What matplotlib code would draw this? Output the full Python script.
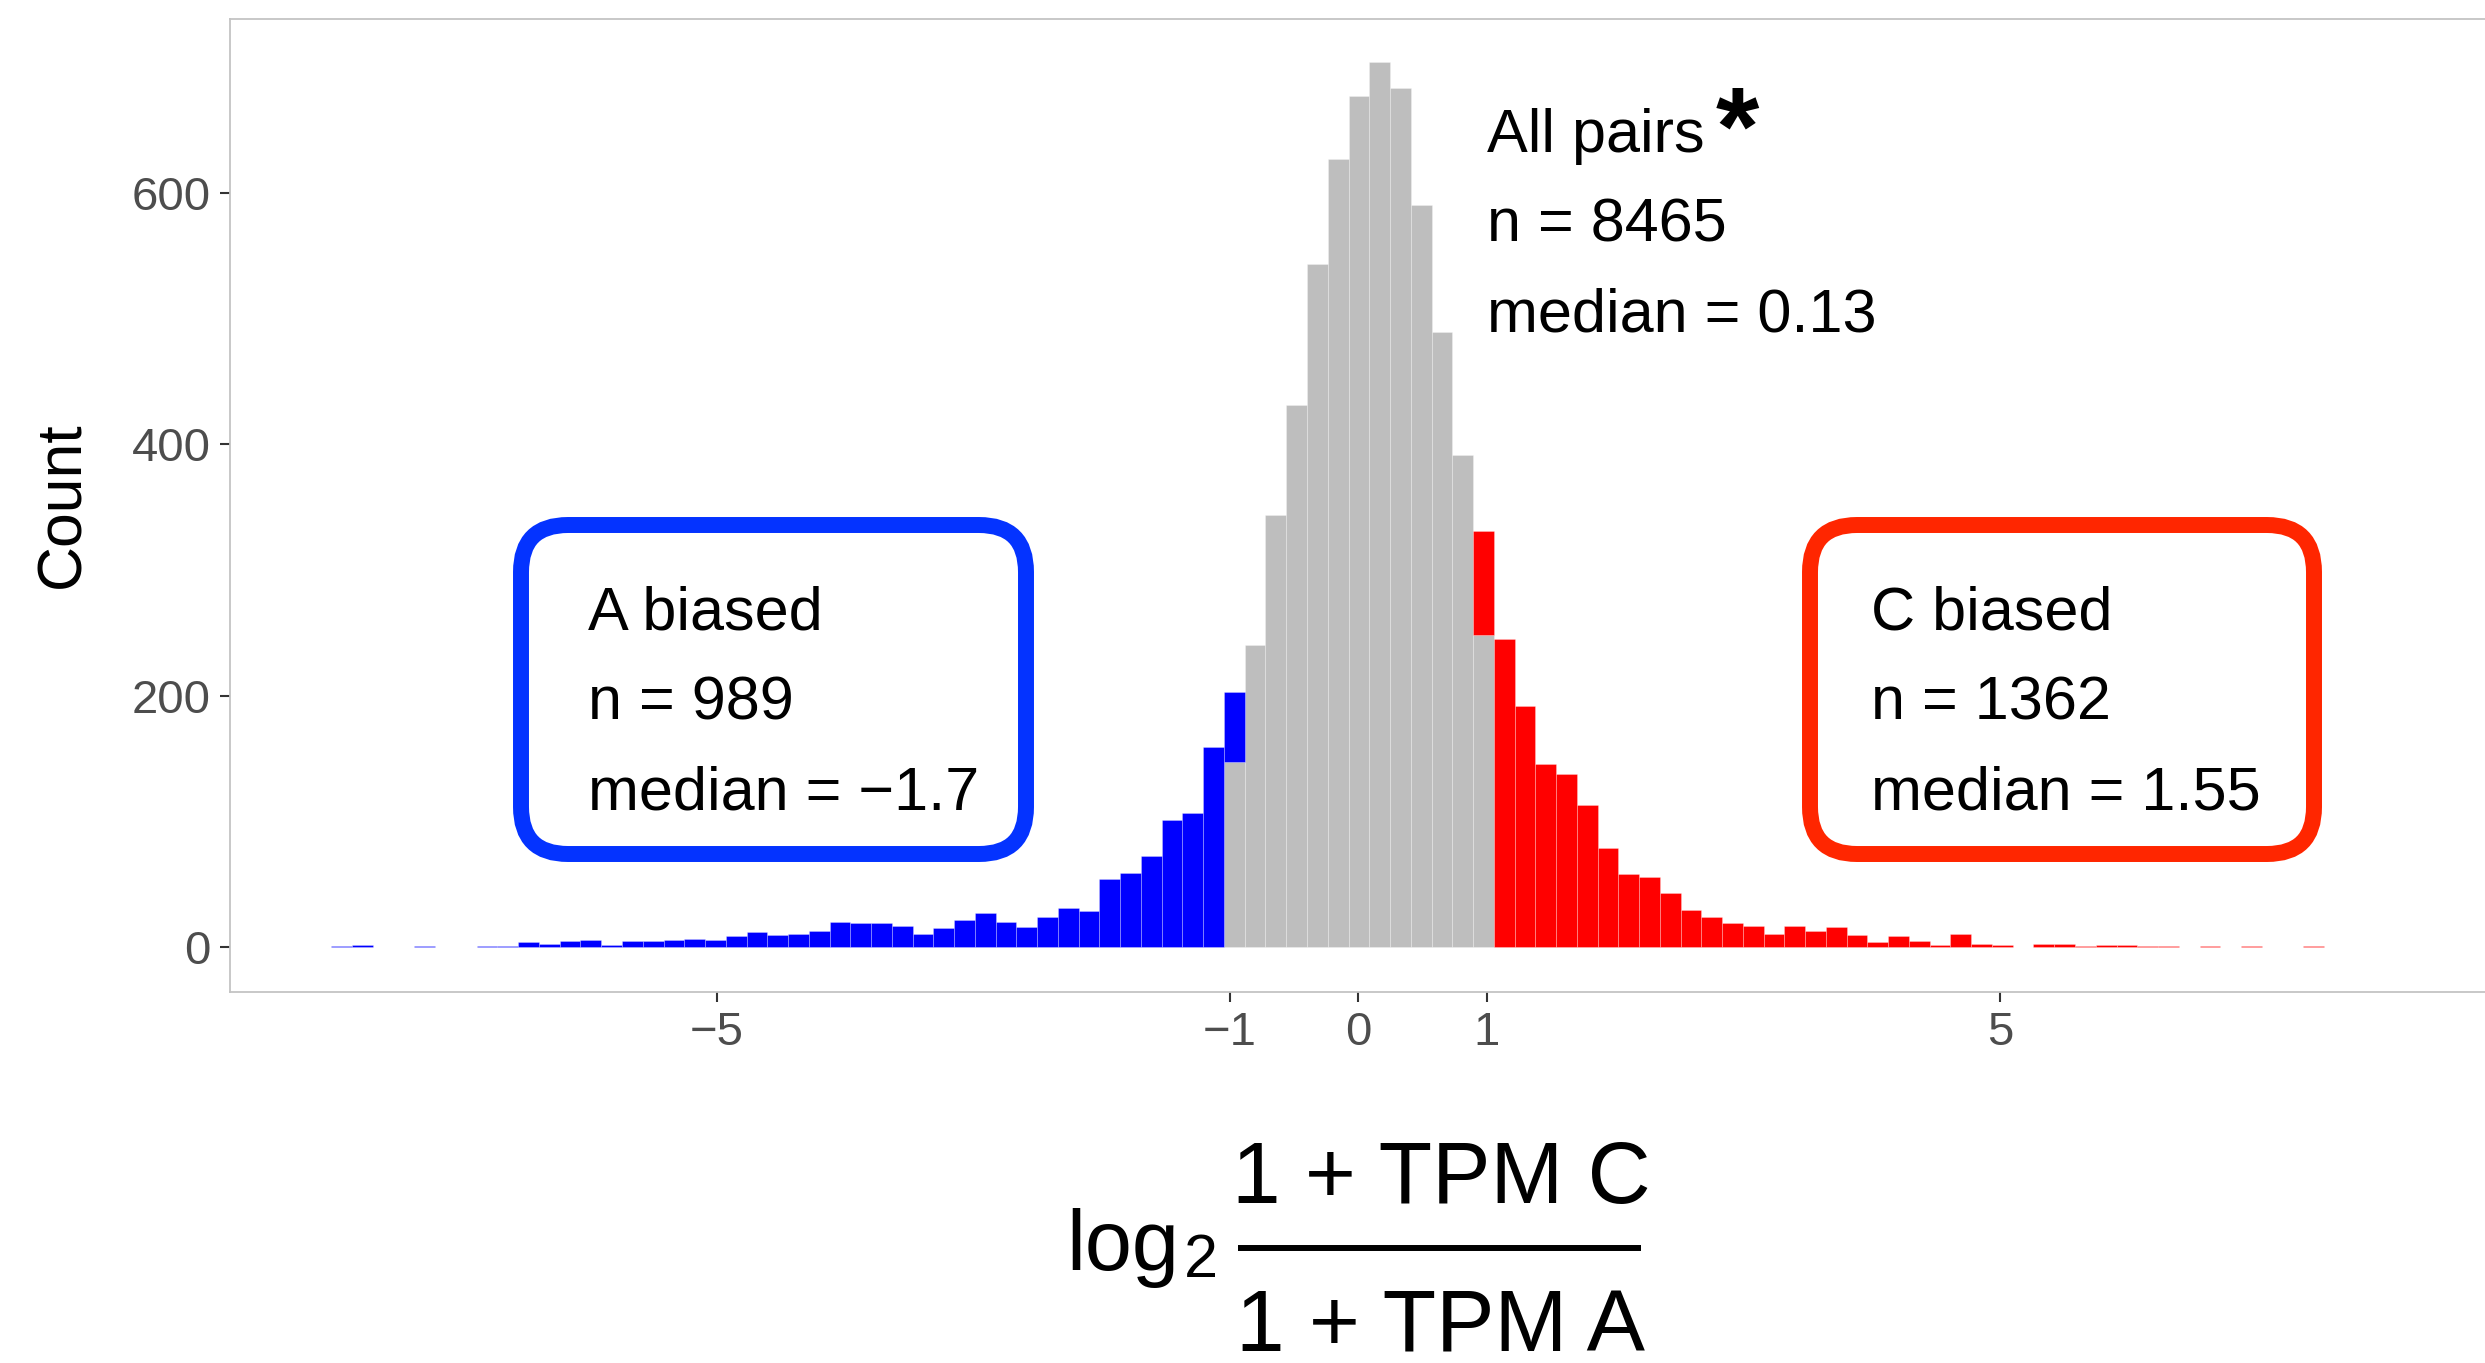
import numpy as np
import matplotlib
matplotlib.use("Agg")
import matplotlib.pyplot as plt
from matplotlib.patches import FancyBboxPatch
from matplotlib.lines import Line2D

plt.rcParams['font.family'] = ['Liberation Sans', 'DejaVu Sans']

# Histogram of log2((1 + TPM C) / (1 + TPM A)), fixed-width bins
BIN_START = -8.0
BIN_WIDTH = 0.1617

# A-biased pairs (ratio < -1): bins 0..43
a_biased_counts = [1, 2, 0, 0, 1, 0, 0, 1, 1, 4, 3, 5, 6, 2, 5, 5, 6, 7, 6, 9,
                   12, 10, 11, 13, 20, 19, 19, 17, 11, 15, 22, 27, 20, 16, 24,
                   31, 29, 54, 59, 73, 101, 107, 159, 56]
# Unbiased pairs (-1 <= ratio <= 1): bins 43..55
neutral_counts = [147, 240, 344, 431, 543, 627, 677, 704, 683, 590, 489, 391, 248]
NEUTRAL_FIRST_BIN = 43
# C-biased pairs (ratio > 1): bins 55..95
c_biased_counts = [83, 245, 192, 146, 138, 113, 79, 58, 56, 43, 30, 24, 19, 17,
                   11, 17, 13, 16, 10, 4, 9, 5, 2, 11, 3, 2, 0, 3, 3, 1, 2, 2,
                   1, 1, 0, 1, 0, 1, 0, 0, 1]
C_FIRST_BIN = 55

x_ticks = [-5, -1, 0, 1, 5]
x_tick_labels = ["\u22125", "\u22121", "0", "1", "5"]
y_ticks = [0, 200, 400, 600]

a_label = ["A biased", "n = 989", "median = \u22121.7"]
c_label = ["C biased", "n = 1362", "median = 1.55"]
all_label = ["All pairs", "n = 8465", "median = 0.13"]

COL_GRAY = "#BEBEBE"
COL_BLUE = "#0000FF"
COL_RED = "#FF0000"
BOX_BLUE = "#0433FF"
BOX_RED = "#FF2600"

W, H, DPI = 2485, 1363, 100
fig = plt.figure(figsize=(W / DPI, H / DPI), dpi=DPI)
fig.patch.set_facecolor("white")


def fx(x):
    return x / W


def fy(y):
    return 1 - y / H


ax = fig.add_axes([fx(230), fy(992), (2488 - 230) / W, (992 - 19) / H])

n_bins = C_FIRST_BIN + len(c_biased_counts)
left_edges = BIN_START + BIN_WIDTH * np.arange(n_bins)

gray = np.zeros(n_bins)
gray[NEUTRAL_FIRST_BIN:NEUTRAL_FIRST_BIN + len(neutral_counts)] = neutral_counts
blue = np.zeros(n_bins)
blue[:len(a_biased_counts)] = a_biased_counts
red = np.zeros(n_bins)
red[C_FIRST_BIN:] = c_biased_counts

edge = (1, 1, 1, 0.3)
for vals, bottom, col in [(gray, np.zeros(n_bins), COL_GRAY),
                          (blue, gray, COL_BLUE),
                          (red, gray, COL_RED)]:
    m = vals > 0
    ax.bar(left_edges[m], vals[m], bottom=bottom[m], width=BIN_WIDTH,
           align="edge", color=col, edgecolor=edge, linewidth=0.6)

ax.set_xlim(-8.79, 8.80)
ax.set_ylim(-35.5, 738)
ax.set_xticks(x_ticks)
ax.set_xticklabels(x_tick_labels)
ax.set_yticks(y_ticks)
ax.tick_params(length=7.5, width=1.5, color="#333333", labelsize=34,
               labelcolor="#4D4D4D", pad=6.5)
for s in ax.spines.values():
    s.set_color("#C4C4C4")
    s.set_linewidth(1.3)

# Axis title
fig.text(fx(63), fy(505), "Count", rotation=90, fontsize=45,
         ha="center", va="center")

# Fraction-style x-axis title
fig.text(fx(1066), fy(1270), "log", fontsize=61, va="baseline")
fig.text(fx(1184), fy(1277), "2", fontsize=44, va="baseline")
fig.text(fx(1441), fy(1203), "1 + TPM C", fontsize=63, va="baseline", ha="center")
fig.text(fx(1441), fy(1352), "1 + TPM A", fontsize=63, va="baseline", ha="center")
fig.add_artist(Line2D([fx(1238), fx(1641)], [fy(1248), fy(1248)],
                      color="black", linewidth=4.3, solid_capstyle="butt"))

# Group annotation boxes
def rounded_box(x0, y0, x1, y1, color):
    box = FancyBboxPatch((x0 / DPI, (H - y1) / DPI), (x1 - x0) / DPI,
                         (y1 - y0) / DPI,
                         boxstyle="round,pad=0,rounding_size=0.47",
                         transform=fig.dpi_scale_trans, facecolor="none",
                         edgecolor=color, linewidth=11.5)
    fig.add_artist(box)


rounded_box(521, 525, 1026, 854, BOX_BLUE)
rounded_box(1810, 525, 2314, 854, BOX_RED)

baselines = [630, 720, 809]
for line, yb in zip(a_label, baselines):
    fig.text(fx(588), fy(yb), line, fontsize=44, va="baseline")
for line, yb in zip(c_label, baselines):
    fig.text(fx(1871), fy(yb), line, fontsize=44, va="baseline")
for line, yb in zip(all_label, [152, 242, 332]):
    fig.text(fx(1487), fy(yb), line, fontsize=44, va="baseline")
fig.text(fx(1716), fy(165), "*", fontsize=80, fontweight="bold", va="baseline")

fig.savefig("out.png", dpi=DPI)
